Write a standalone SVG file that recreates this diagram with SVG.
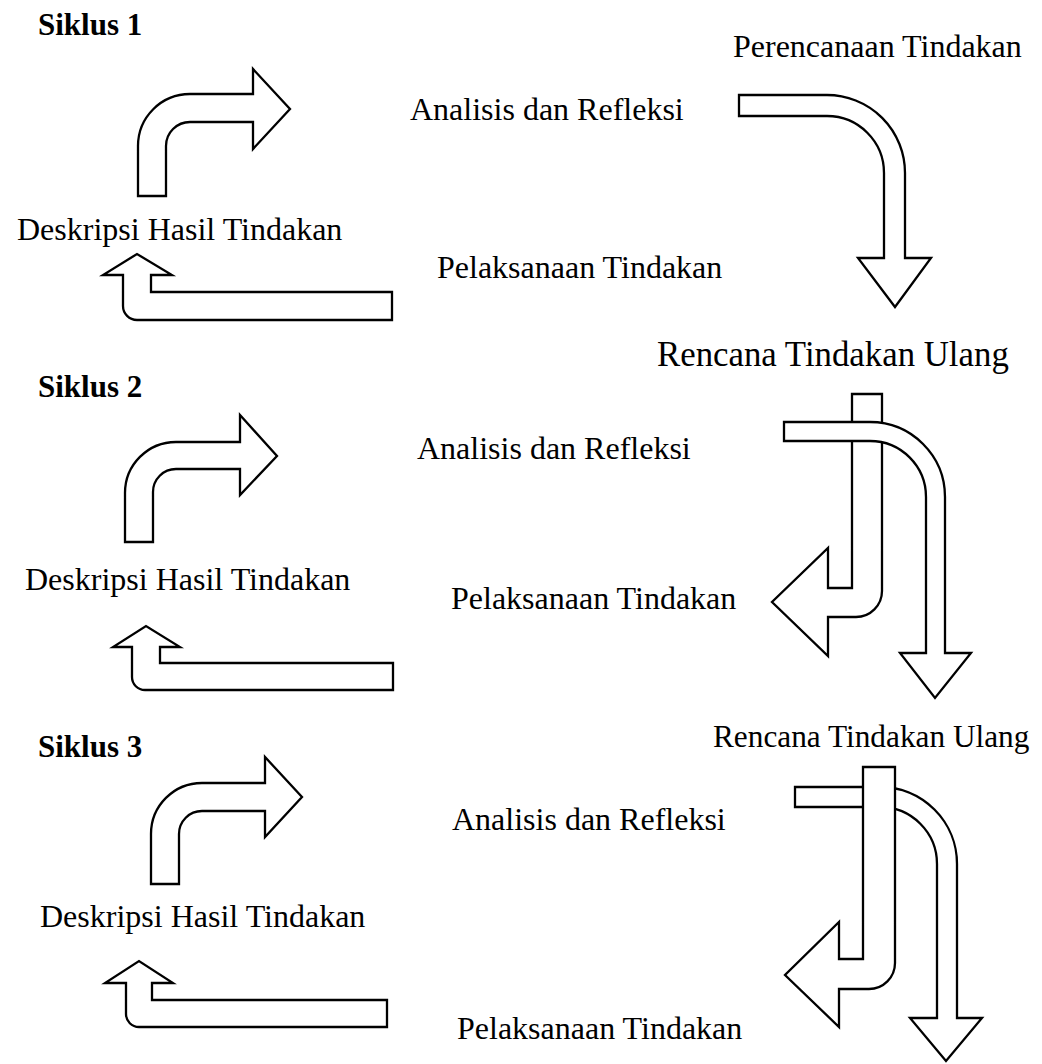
<svg xmlns="http://www.w3.org/2000/svg" width="1042" height="1064" viewBox="0 0 1042 1064">
<style>
.t{font-family:"Liberation Serif","Times New Roman",serif;font-size:32px;fill:#000}
.b{font-weight:bold;font-size:31px}
.a{fill:#fff;stroke:#000;stroke-width:2.3;stroke-linejoin:miter}
</style>
<rect width="1042" height="1064" fill="#fff"/>
<g id="labels">
<g id="siklus1"><text class="t b" x="38" y="35">Siklus 1</text></g>
<g id="perencanaan"><text class="t" x="733" y="57">Perencanaan Tindakan</text></g>
<g id="analisis1"><text class="t" x="410" y="120">Analisis dan Refleksi</text></g>
<g id="deskripsi1"><text class="t" x="17" y="240">Deskripsi Hasil Tindakan</text></g>
<g id="pelaksanaan1"><text class="t" x="437" y="278">Pelaksanaan Tindakan</text></g>
<g id="rencana1"><text class="t" x="657" y="366" style="font-size:34.8px">Rencana Tindakan Ulang</text></g>
<g id="siklus2"><text class="t b" x="38" y="397">Siklus 2</text></g>
<g id="analisis2"><text class="t" x="417" y="459">Analisis dan Refleksi</text></g>
<g id="deskripsi2"><text class="t" x="25" y="590">Deskripsi Hasil Tindakan</text></g>
<g id="pelaksanaan2"><text class="t" x="451" y="609">Pelaksanaan Tindakan</text></g>
<g id="rencana2"><text class="t" x="713" y="747" style="font-size:31.3px">Rencana Tindakan Ulang</text></g>
<g id="siklus3"><text class="t b" x="38" y="757">Siklus 3</text></g>
<g id="analisis3"><text class="t" x="452" y="830">Analisis dan Refleksi</text></g>
<g id="deskripsi3"><text class="t" x="40" y="927">Deskripsi Hasil Tindakan</text></g>
<g id="pelaksanaan3"><text class="t" x="457" y="1039">Pelaksanaan Tindakan</text></g>
</g>
<g id="connectors">
<path id="s1-up" class="a" d="M138,196 L138,146 A52,52 0 0 1 190,94 L253,94 L253,69 L290,109 L253,149 L253,122 L190,122 A24,24 0 0 0 166,146 L166,196 Z"/>
<path id="s1-down" class="a" d="M739,95 L827,95 A78,78 0 0 1 905,173 L905,258 L931,258 L895,307 L858,258 L884,258 L884,173 A57,57 0 0 0 827,116 L739,116 Z"/>
<path id="s1-back" class="a" d="M392,292 L151,292 L151,275 L172,275 L137,254 L103,275 L123,275 L123,306 A14,14 0 0 0 137,320 L392,320 Z"/>
<path id="s2-up" class="a" d="M125,542 L125,493 A51,51 0 0 1 176,442 L240,442 L240,415 L277,456 L240,495 L240,469 L176,469 A23,23 0 0 0 153,492 L153,542 Z"/>
<path id="s2-back" class="a" d="M393,663 L160,663 L160,647 L180,647 L146,626 L113,647 L132,647 L132,677 A13,13 0 0 0 145,690 L393,690 Z"/>
<path id="s2-uturn" class="a" d="M852,394 L882,394 L882,591 A26,26 0 0 1 856,617 L828,617 L828,656 L772,602 L828,548 L828,588 L852,588 Z"/>
<path id="s2-down" class="a" d="M784,422 L870,422 A75,75 0 0 1 945,497 L945,653 L971,653 L935,698 L900,653 L926,653 L926,497 A56,56 0 0 0 870,441 L784,441 Z"/>
<path id="s3-up" class="a" d="M151,884 L151,834 A51,51 0 0 1 202,783 L265,783 L265,757 L302,797 L265,837 L265,811 L202,811 A23,23 0 0 0 179,834 L179,884 Z"/>
<path id="s3-back" class="a" d="M387,1000 L152,1000 L152,983 L173,983 L139,961 L105,983 L126,983 L126,1014 A13,13 0 0 0 139,1027 L387,1027 Z"/>
<path id="s3-down" class="a" d="M795,787 L880,787 A77,77 0 0 1 957,864 L957,1018 L982,1018 L946,1061 L910,1018 L937,1018 L937,864 A57,57 0 0 0 880,807 L795,807 Z"/>
<path id="s3-uturn" class="a" d="M863,767 L895,767 L895,963 A26,26 0 0 1 869,989 L839,989 L839,1027 L785,975 L839,922 L839,959 L863,959 Z"/>
</g>
</svg>
